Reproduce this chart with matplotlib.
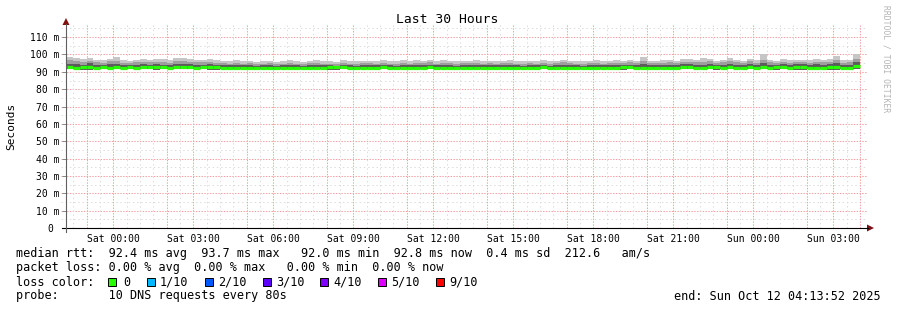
"""SmokePing style latency chart - Last 30 Hours"""

import numpy as np
import matplotlib.pyplot as plt
from matplotlib.patches import Rectangle, Polygon
from matplotlib.lines import Line2D

W, H = 897, 310

# 数据: 15 分钟一个区间, 从周五 22:15 到周日 04:00 (以周六 00:00 为 0 小时)
bin_hours = 0.25
hi = [
    98.8, 97.8, 97.4, 97.8, 96.8, 96.6, 97.6, 98.4, 96.6, 96.4,
    97.0, 97.4, 96.8, 97.2, 97.2, 96.6, 97.8, 97.8, 97.5, 97.1,
    97.0, 97.4, 96.6, 96.4, 96.4, 96.6, 96.0, 96.4, 95.8, 96.2,
    96.4, 95.8, 96.0, 96.6, 96.2, 95.9, 96.3, 96.6, 96.0, 96.2,
    95.8, 96.8, 96.2, 96.0, 96.4, 96.4, 96.0, 96.6, 96.2, 96.0,
    96.6, 96.0, 96.6, 96.3, 97.0, 96.0, 96.6, 96.4, 96.0, 96.3,
    96.4, 96.8, 96.1, 96.4, 96.2, 96.3, 96.6, 96.2, 96.0, 96.4,
    96.2, 96.6, 96.0, 96.3, 97.0, 96.4, 96.2, 96.0, 96.3, 96.6,
    96.0, 96.4, 96.6, 96.2, 97.0, 96.4, 98.6, 96.4, 96.2, 96.6,
    97.0, 96.4, 97.2, 97.4, 96.8, 97.8, 97.4, 96.4, 96.8, 98.0,
    96.8, 96.4, 97.4, 96.6, 100.0, 96.8, 96.4, 97.2, 96.6, 97.0,
    97.0, 96.6, 97.2, 96.8, 97.2, 99.0, 96.6, 96.8, 100.0,
]
mid_hi = [
    96.6, 96.2, 95.8, 96.4, 95.4, 95.0, 96.0, 96.4, 95.2, 95.0,
    95.6, 95.8, 95.4, 95.8, 95.6, 95.2, 96.0, 96.2, 95.8, 95.6,
    95.4, 95.8, 95.2, 95.0, 94.8, 95.0, 94.8, 95.0, 94.6, 94.8,
    95.0, 94.6, 94.8, 95.2, 94.8, 94.6, 95.0, 95.2, 94.8, 94.8,
    94.6, 95.2, 94.8, 94.7, 95.0, 95.0, 94.8, 95.2, 94.8, 94.6,
    95.2, 94.8, 95.0, 94.9, 95.4, 94.8, 95.0, 95.0, 94.7, 94.9,
    95.0, 95.2, 94.8, 95.0, 94.8, 94.9, 95.2, 94.8, 94.7, 95.0,
    94.8, 95.2, 94.7, 94.9, 95.4, 95.0, 94.8, 94.7, 94.9, 95.2,
    94.8, 95.0, 95.2, 94.9, 95.4, 95.0, 96.4, 95.0, 94.9, 95.2,
    95.4, 95.0, 95.6, 95.8, 95.4, 95.8, 96.0, 95.2, 95.4, 96.2,
    95.4, 95.0, 96.0, 95.2, 96.6, 95.4, 95.0, 95.8, 95.2, 95.6,
    95.6, 95.2, 95.8, 95.4, 95.8, 96.8, 95.2, 95.4, 97.2,
]
core_hi = [
    94.8, 94.6, 94.2, 95.0, 94.0, 93.8, 94.6, 94.8, 94.0, 93.8,
    94.2, 94.4, 94.2, 94.6, 94.2, 94.0, 94.4, 94.8, 94.4, 94.2,
    94.0, 94.4, 94.0, 93.8, 93.8, 93.9, 93.7, 93.8, 93.6, 93.8,
    93.8, 93.6, 93.8, 94.0, 93.7, 93.6, 93.8, 94.0, 93.7, 93.8,
    93.6, 94.0, 93.8, 93.6, 93.9, 93.8, 93.7, 94.0, 93.7, 93.6,
    94.0, 93.8, 93.9, 93.8, 94.2, 93.7, 93.9, 93.8, 93.6, 93.8,
    93.8, 94.0, 93.7, 93.9, 93.7, 93.8, 94.0, 93.7, 93.6, 93.8,
    93.7, 94.0, 93.6, 93.8, 94.2, 93.8, 93.7, 93.6, 93.8, 94.0,
    93.7, 93.9, 94.0, 93.8, 94.2, 93.9, 94.6, 93.9, 93.8, 94.0,
    94.2, 93.9, 94.4, 94.6, 94.2, 94.0, 94.6, 94.0, 94.2, 94.8,
    94.2, 93.9, 94.6, 94.0, 95.0, 94.2, 93.9, 94.6, 94.0, 94.4,
    94.4, 94.0, 94.6, 94.2, 94.6, 95.2, 94.0, 94.2, 95.4,
]
lo = [
    91.9, 91.9, 91.3, 91.3, 91.9, 91.9, 91.9, 91.9, 91.9, 91.9,
    91.9, 91.9, 91.9, 91.3, 91.9, 91.9, 91.9, 91.9, 91.9, 91.9,
    91.9, 91.3, 91.3, 91.9, 91.9, 91.9, 91.9, 91.9, 91.9, 91.9,
    91.9, 91.9, 91.9, 91.9, 91.9, 91.9, 91.9, 91.9, 91.9, 91.3,
    91.3, 91.9, 91.9, 91.9, 91.9, 91.9, 91.9, 91.9, 91.9, 91.9,
    91.9, 91.9, 91.9, 91.9, 91.9, 91.9, 91.9, 91.9, 91.9, 91.9,
    91.9, 91.9, 91.9, 91.9, 91.9, 91.9, 91.9, 91.9, 91.9, 91.9,
    91.9, 91.9, 91.9, 91.9, 91.9, 91.9, 91.9, 91.9, 91.9, 91.9,
    91.9, 91.9, 91.9, 91.3, 91.9, 91.9, 91.9, 91.9, 91.9, 91.9,
    91.9, 91.9, 91.9, 91.9, 91.9, 91.9, 91.9, 91.3, 91.9, 91.9,
    91.9, 91.9, 91.9, 91.9, 91.9, 91.9, 91.3, 91.9, 91.9, 91.3,
    91.3, 91.9, 91.9, 91.9, 91.3, 91.3, 91.9, 91.9, 91.9,
]
med = [
    92.8, 92.4, 92.8, 92.9, 92.4, 92.6, 92.4, 92.8, 92.3, 92.6,
    92.4, 92.7, 92.9, 92.8, 92.8, 92.4, 92.6, 92.9, 92.6, 92.4,
    92.6, 92.8, 92.8, 92.3, 92.3, 92.5, 92.3, 92.2, 92.2, 92.2,
    92.2, 92.2, 92.2, 92.3, 92.2, 92.2, 92.2, 92.3, 92.2, 92.7,
    92.7, 92.6, 92.3, 92.2, 92.4, 92.3, 92.2, 92.6, 92.3, 92.2,
    92.4, 92.3, 92.5, 92.2, 92.6, 92.2, 92.3, 92.4, 92.2, 92.3,
    92.3, 92.5, 92.2, 92.4, 92.2, 92.3, 92.5, 92.2, 92.2, 92.3,
    92.2, 92.6, 92.2, 92.3, 92.5, 92.3, 92.2, 92.2, 92.3, 92.4,
    92.2, 92.3, 92.4, 92.7, 92.6, 92.3, 92.5, 92.3, 92.2, 92.4,
    92.4, 92.3, 92.8, 92.6, 92.3, 92.5, 92.8, 92.7, 92.4, 93.0,
    92.4, 92.3, 92.8, 92.3, 92.6, 92.4, 92.7, 92.6, 92.3, 92.7,
    92.7, 92.2, 92.5, 92.3, 92.7, 92.8, 92.2, 92.4, 93.2,
]
bin_start = -1.75 + bin_hours * np.arange(len(med))

tick_hours = [0, 3, 6, 9, 12, 15, 18, 21, 24, 27]
tick_labels = ['Sat 00:00', 'Sat 03:00', 'Sat 06:00', 'Sat 09:00', 'Sat 12:00',
               'Sat 15:00', 'Sat 18:00', 'Sat 21:00', 'Sun 00:00', 'Sun 03:00']
major_hours = [-1, 0, 2, 3, 5, 6, 8, 9, 11, 12, 14, 15, 17, 18, 20, 21,
               23, 24, 26, 27, 28]
y_ticks = [0, 10, 20, 30, 40, 50, 60, 70, 80, 90, 100, 110]
y_labels = ['0 '] + [f'{v} m' for v in y_ticks[1:]]

loss_labels = ['0', '1/10', '2/10', '3/10', '4/10', '5/10', '9/10']
loss_colors = ['#26ff00', '#00b8ff', '#0059ff', '#5e00ff', '#7e00ff', '#dd00ff', '#ff0000']

stats_lines = [
    'median rtt:  92.4 ms avg  93.7 ms max   92.0 ms min  92.8 ms now  0.4 ms sd  212.6   am/s',
    'packet loss: 0.00 % avg  0.00 % max   0.00 % min  0.00 % now',
    'loss color:',
    'probe:       10 DNS requests every 80s',
]

MONO = 'DejaVu Sans Mono'
plt.rcParams['font.family'] = MONO


def px(x, y):
    """像素坐标 -> figure 坐标"""
    return x / W, 1 - y / H


fig = plt.figure(figsize=(W / 100, H / 100), dpi=100)
ax = fig.add_axes([66 / W, 82 / H, 800 / W, 203 / H])
ax.set_xlim(-1.769, 28.231)
ax.set_ylim(0, 117)
for s in ax.spines.values():
    s.set_visible(False)

# 网格 (点线): 次网格灰色稀疏, 主网格淡红色
minor_kw = dict(lw=0.72, ls=(0, (1.4, 2.8)), color='#dcdcdc', zorder=0)
major_kw = dict(lw=0.72, ls=(0, (1.4, 1.4)), color='#f4a0a0', zorder=0)
for v in np.arange(5, 117, 10):
    ax.axhline(v, xmin=-5 / 800, clip_on=False, **minor_kw)
for v in y_ticks[1:]:
    ax.axhline(v, xmin=-5 / 800, clip_on=False, **major_kw)
for h in np.arange(-1.5, 28.3, 0.5):
    if h not in major_hours:
        ax.axvline(h, **minor_kw)
for h in major_hours:
    ax.axvline(h, **major_kw)

# 烟雾层
hi_a, mid_a, core_a, lo_a = map(np.array, (hi, mid_hi, core_hi, lo))
ax.bar(bin_start, hi_a - lo_a, bottom=lo_a, width=bin_hours, align='edge',
       color='#c6c6c6', linewidth=0, zorder=2)
ax.bar(bin_start, mid_a - lo_a, bottom=lo_a, width=bin_hours, align='edge',
       color='#9e9e9e', linewidth=0, zorder=3)
ax.bar(bin_start, core_a - lo_a, bottom=lo_a, width=bin_hours, align='edge',
       color='#5c5c5c', linewidth=0, zorder=4)
ax.hlines(med, bin_start, bin_start + bin_hours, colors=loss_colors[0], lw=2.3,
          zorder=5, capstyle='butt')

# 刻度
ax.set_xticks(tick_hours)
ax.set_xticklabels(tick_labels, fontsize=7)
ax.tick_params(axis='x', length=0, pad=4)
ax.set_yticks(y_ticks)
ax.set_yticklabels(y_labels, fontsize=7)
ax.tick_params(axis='y', length=3, width=0.7, color='#888888', pad=1.5)

# 坐标轴和箭头
fig.add_artist(Line2D([62 / W, 868 / W], [1 - 228 / H] * 2, color='black', lw=0.8))
fig.add_artist(Line2D([66 / W] * 2, [1 - 232 / H, 1 - 24 / H], color='#606060', lw=0.8))
fig.add_artist(Polygon([px(867, 224.5), px(874, 228), px(867, 231.5)], closed=True,
                       color='#7f1010', lw=0))
fig.add_artist(Polygon([px(62.5, 25), px(66, 18), px(69.5, 25)], closed=True,
                       color='#7f1010', lw=0))

# 标题和标签
fig.text(*px(447, 19.5), 'Last 30 Hours', ha='center', va='center', fontsize=9.4)
fig.text(*px(11, 126), 'Seconds', ha='center', va='center', rotation=90, fontsize=8)
fig.text(*px(886, 5), 'RRDTOOL / TOBI OETIKER', ha='center', va='top',
         rotation=270, fontsize=5.8, color='#b4b4b4')

# 图例
for i, line in enumerate(stats_lines):
    fig.text(*px(16, 254 + 14 * i), line, ha='left', va='center', fontsize=8.45)
box_x = [108, 147, 205, 263, 320, 378, 436]
text_x = [123, 160, 218, 276, 333, 391, 449]
for bx, tx, lab, col in zip(box_x, text_x, loss_labels, loss_colors):
    fig.add_artist(Rectangle(px(bx, 286), 8 / W, 8 / H, facecolor=col,
                             edgecolor='black', lw=0.7))
    fig.text(*px(tx, 282), lab, ha='left', va='center', fontsize=8.45)
fig.text(*px(881, 296), 'end: Sun Oct 12 04:13:52 2025', ha='right', va='center', fontsize=8.45)

fig.savefig('out.png', dpi=100, facecolor='white')
